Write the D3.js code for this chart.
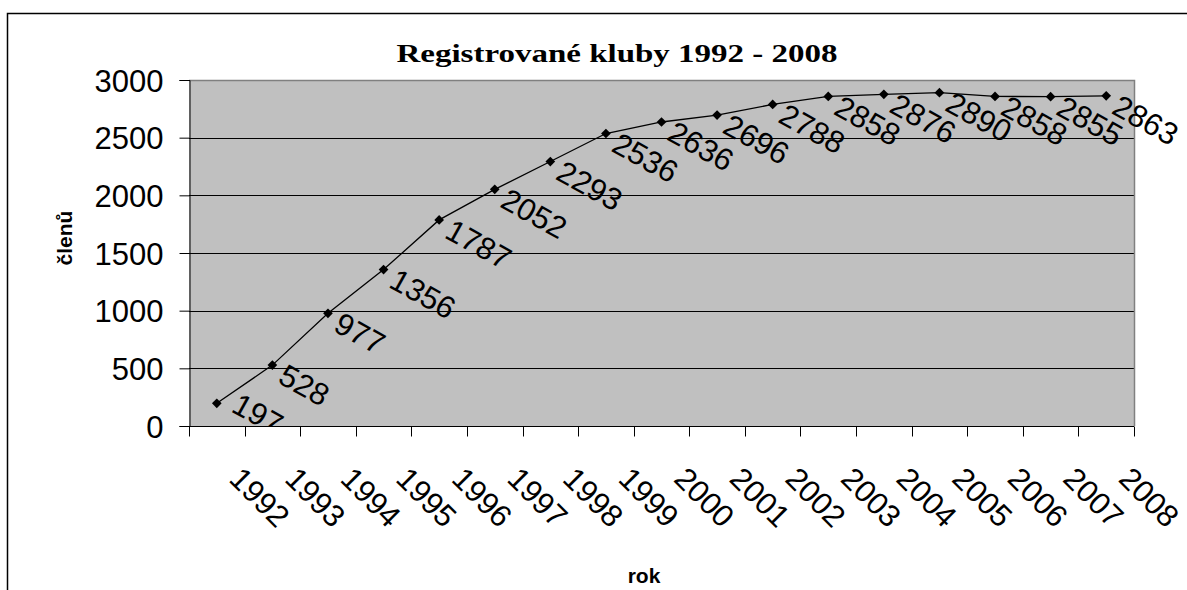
<!DOCTYPE html>
<html><head><meta charset="utf-8">
<script src="https://cdn.jsdelivr.net/npm/d3@7/dist/d3.min.js"></script>
<style>body{margin:0;background:#fff}svg{display:block}</style>
</head><body>
<script>
const years = ["1992","1993","1994","1995","1996","1997","1998","1999","2000","2001","2002","2003","2004","2005","2006","2007","2008"];
const members = [197,528,977,1356,1787,2052,2293,2536,2636,2696,2788,2858,2876,2890,2858,2855,2863];
const yTicks = [0,500,1000,1500,2000,2500,3000];
const title = "Registrované kluby 1992 - 2008";
const xTitle = "rok", yTitle = "členů";

const W = 1187, H = 590;
const L = 189, R = 1134, T = 80, B = 426;
const svg = d3.select("body").append("svg").attr("width", W).attr("height", H);

// outer border
svg.append("path").attr("d", `M7.5,${H} V13.5 H${W}`).attr("fill","none").attr("stroke","#000").attr("stroke-width",1.5);

const x = d3.scaleBand().domain(years).range([L, R]).padding(0);
const y = d3.scaleLinear().domain([0, 3000]).range([B, T]);
const font = "'Liberation Sans', Arial, sans-serif";

svg.append("rect").attr("x", L).attr("y", T).attr("width", R - L).attr("height", B - T).attr("fill", "#C0C0C0");

// gridlines
svg.append("g").selectAll("line").data(yTicks.filter(v => v > 0 && v < 3000)).join("line")
  .attr("x1", L).attr("x2", R).attr("y1", d => Math.round(y(d)) + 0.5).attr("y2", d => Math.round(y(d)) + 0.5)
  .attr("stroke", "#000").attr("stroke-width", 1);
// plot border top/right gray
svg.append("path").attr("d", `M${L},${T+0.5} H${R+0.5} V${B}`).attr("fill","none").attr("stroke","#808080").attr("stroke-width",1.5);

// y axis
const yAxis = d3.axisLeft(y).tickValues(yTicks).tickSize(10).tickPadding(16).tickFormat(d3.format("d"));
const gy = svg.append("g").attr("transform", `translate(${L+0.5},0)`).call(yAxis);
gy.select(".domain").attr("stroke", "#000");
gy.selectAll(".tick line").attr("stroke", "#000");
gy.selectAll(".tick text").attr("font-family", font).attr("font-size", 31).attr("fill", "#000").attr("dy", "0.36em");

// x axis with ticks at category boundaries
const gx = svg.append("g").attr("transform", `translate(0,${B+0.5})`);
gx.append("line").attr("x1", L).attr("x2", R).attr("stroke", "#000");
const bounds = years.map(d => x(d)).concat([R]);
gx.selectAll("line.tk").data(bounds).join("line").attr("class","tk")
  .attr("x1", d => Math.round(d) + 0.5).attr("x2", d => Math.round(d) + 0.5).attr("y1", 0).attr("y2", 10).attr("stroke", "#000");
gx.selectAll("text").data(years).join("text")
  .attr("transform", d => `translate(${x(d) + x.bandwidth()/2 + 11},54) rotate(45)`)
  .attr("font-family", font).attr("font-size", 31).attr("fill", "#000").text(d => d);

// line + markers
const cx = d => x(d) + x.bandwidth()/2;
const pts = years.map((d, i) => [cx(d), y(members[i])]);
svg.append("path").attr("d", d3.line()(pts)).attr("fill", "none").attr("stroke", "#000").attr("stroke-width", 1.3);
svg.append("g").selectAll("path").data(pts).join("path")
  .attr("transform", p => `translate(${p[0]},${p[1]})`)
  .attr("d", d3.symbol().type(d3.symbolDiamond2).size(60)).attr("fill", "#000");

// data labels (kept near the plot area: pushed up/right when too close to the bottom axis)
svg.append("clipPath").attr("id", "clipLab").append("rect").attr("x", 0).attr("y", 0).attr("width", W).attr("height", B);
svg.append("g").attr("clip-path", "url(#clipLab)").selectAll("text").data(pts).join("text")
  .attr("transform", p => {
    const sy0 = p[1] + 17, sy = Math.min(sy0, B - 15);
    const sx = p[0] + 4 + (sy0 - sy) * 1.0;
    return `translate(${sx},${sy}) rotate(29)`;
  })
  .attr("font-family", font).attr("font-size", 31).attr("fill", "#000")
  .text((p, i) => members[i]);

// title
svg.append("text").attr("x", 617).attr("y", 62).attr("text-anchor", "middle")
  .attr("font-family", "'Liberation Serif', 'DejaVu Serif', serif").attr("font-weight", "bold").attr("font-size", 25)
  .attr("textLength", 441).attr("lengthAdjust", "spacingAndGlyphs").text(title);

// axis titles
svg.append("text").attr("transform", "translate(72,238) rotate(-90)").attr("text-anchor", "middle")
  .attr("font-family", font).attr("font-weight", "bold").attr("font-size", 21).text(yTitle);
svg.append("text").attr("x", 644).attr("y", 583).attr("text-anchor", "middle")
  .attr("font-family", font).attr("font-weight", "bold").attr("font-size", 21).text(xTitle);
</script>
</body></html>
